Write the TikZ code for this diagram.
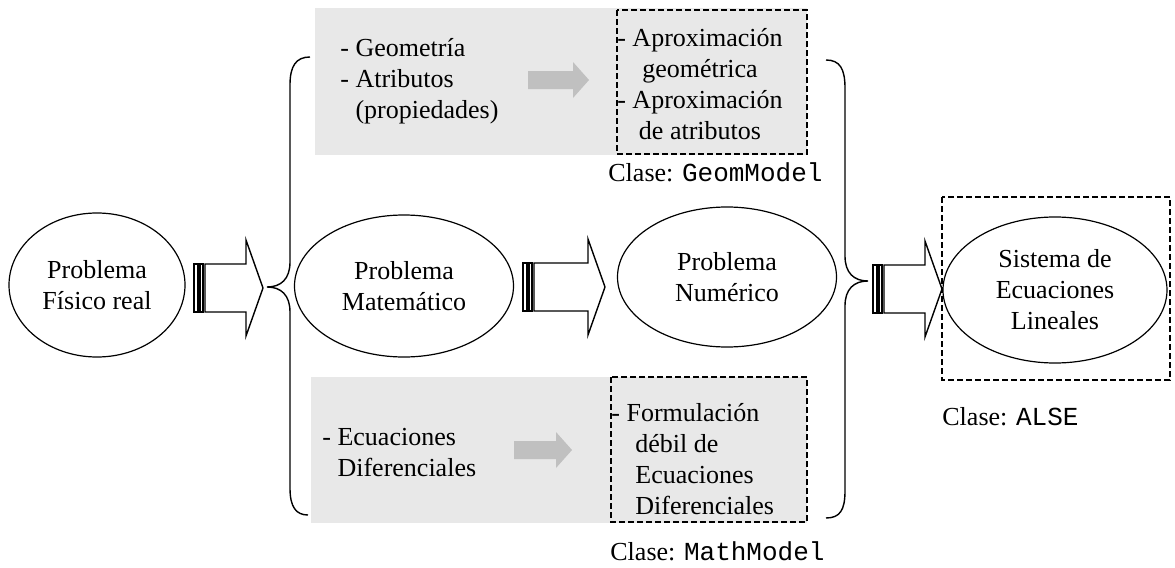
\documentclass[tikz,border=0pt]{standalone}
\usepackage{fontspec}
\setmainfont{Liberation Serif}
\setmonofont{Liberation Mono}
\usetikzlibrary{positioning,shapes.geometric}

\definecolor{boxgray}{RGB}{232,232,232}
\definecolor{arrowgray}{RGB}{192,192,192}

% striped block arrow: #1 start x, #2 tip x, #3 centre y
\newcommand{\blockarrow}[3]{%
  \draw[blockline] (#1,#3-24) rectangle (#1+4,#3+24);
  \draw[blockline] (#1+6,#3-24) rectangle (#1+9,#3+24);
  \draw[blockline] (#1+11,#3-24) -- (#2-17,#3-24) -- (#2-17,#3-48) -- (#2,#3)
    -- (#2-17,#3+48) -- (#2-17,#3+24) -- (#1+11,#3+24) -- cycle;
}
% plain grey arrow: #1 start x, #2 tip x, #3 centre y
\newcommand{\grayarrow}[3]{%
  \fill[arrowgray] (#1,#3-9) -- (#2-16,#3-9) -- (#2-16,#3-18) -- (#2,#3)
    -- (#2-16,#3+18) -- (#2-16,#3+9) -- (#1,#3+9) -- cycle;
}

\tikzset{
  problem/.style={ellipse, draw, line width=0.6pt, align=center, inner sep=0pt},
  listtext/.style={anchor=base west, align=left, inner sep=0pt},
  centertext/.style={anchor=base, align=center, inner sep=0pt},
  claselabel/.style={anchor=base west, inner sep=0pt},
  dashbox/.style={draw, line width=0.7pt, dash pattern=on 3pt off 1.5pt},
  blockline/.style={draw, line width=0.7pt, fill=white},
  brace/.style={draw, line width=0.7pt},
}

\begin{document}
\begin{tikzpicture}[x=0.5pt, y=-0.5pt,
  every node/.style={font=\fontsize{13}{15.5}\selectfont}]

\useasboundingbox (0,0) rectangle (1175,568);

% grey boxes
\fill[boxgray] (315,8) rectangle (807,155);
\fill[boxgray] (311,377) rectangle (807,523);
\draw[dashbox] (617,10) rectangle (807,154);
\draw[dashbox] (611,377) rectangle (807,522);
\draw[dashbox] (942,197) rectangle (1170,380);

% problem ellipses
\node[problem, minimum width=88pt, minimum height=72pt] (fisico) at (97,285) {Problema\\F\'isico real};
\node[problem, minimum width=109.5pt, minimum height=71pt] (matematico) at (404,286) {Problema\\Matem\'atico};
\node[problem, minimum width=109.5pt, minimum height=70pt] (numerico) at (727,277) {Problema\\Num\'erico};
\node[problem, minimum width=112pt, minimum height=73pt] (sistema) at (1055,290) {Sistema de\\Ecuaciones\\Lineales};

% box texts (base = last line)
\node[listtext] (geom) at (340,118) {- Geometr\'ia\\- Atributos\\\hphantom{-}\ (propiedades)};
\node[centertext] (aprox) at (700,139) {- Aproximaci\'on\\geom\'etrica\\- Aproximaci\'on\\de atributos};
\node[listtext] (ecuac) at (322,476) {- Ecuaciones\\\hphantom{-}\ Diferenciales};
\node[listtext] (formul) at (611,514) {- Formulaci\'on\\\hspace*{12pt}d\'ebil de\\\hspace*{12pt}Ecuaciones\\\hspace*{12pt}Diferenciales};

% class labels
\node[claselabel] (geomclase) at (608,181) {Clase: \texttt{GeomModel}};
\node[claselabel] (mathclase) at (610,560) {Clase: \texttt{MathModel}};
\node[claselabel] (alseclase) at (942,425) {Clase: \texttt{ALSE}};

% grey arrows
\grayarrow{528}{589}{80}
\grayarrow{514}{572}{450}

% block arrows
\blockarrow{194}{263}{288}
\blockarrow{523}{605}{287}
\blockarrow{873}{942}{289}

% braces
\draw[brace] (310,57) .. controls (296,57) and (290,66) .. (290,85) -- (290,262)
  .. controls (290,279) and (281,287) .. (267,287)
  .. controls (281,287) and (290,295) .. (290,312) -- (290,488)
  .. controls (290,507) and (296,515) .. (308,515);
\draw[brace] (826,60) .. controls (840,60) and (845,69) .. (845,88) -- (845,256)
  .. controls (845,273) and (854,281) .. (868,281)
  .. controls (854,281) and (845,289) .. (845,306) -- (845,491)
  .. controls (845,510) and (840,518) .. (826,518);

\end{tikzpicture}
\end{document}
